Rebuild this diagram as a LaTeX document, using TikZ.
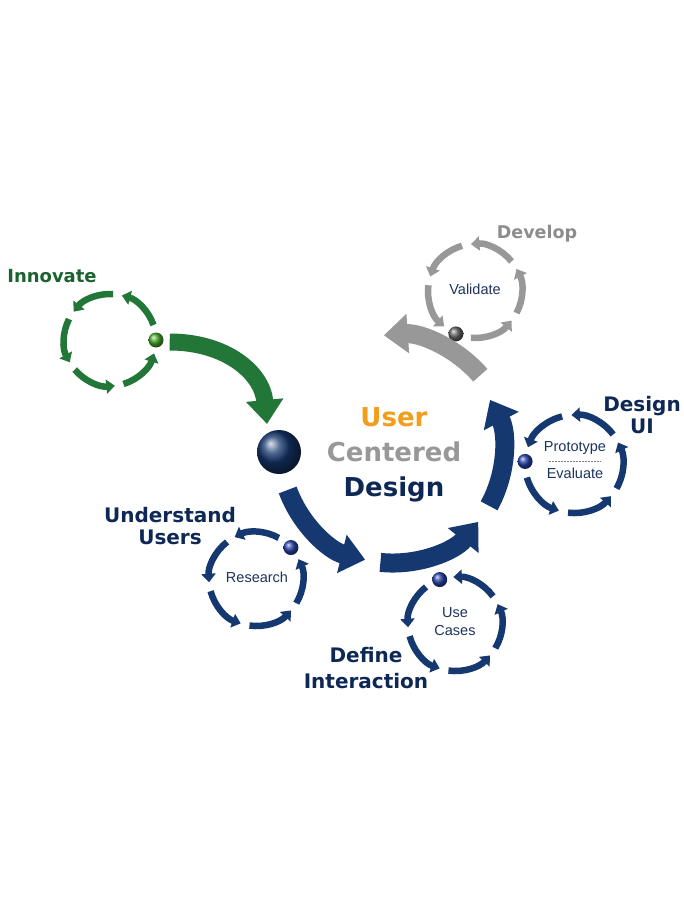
\documentclass[tikz,border=0pt]{standalone}
\usepackage{fontspec}
\setmainfont{DejaVu Sans}
\newfontfamily\lsans{Liberation Sans}
\usetikzlibrary{arrows.meta,calc}
\definecolor{navyA}{RGB}{22,56,112}
\definecolor{navyT}{RGB}{14,40,86}
\definecolor{smallT}{RGB}{30,52,92}
\definecolor{greenA}{RGB}{34,118,56}
\definecolor{greenT}{RGB}{28,98,48}
\definecolor{greyA}{RGB}{152,152,152}
\definecolor{greyT}{RGB}{140,140,140}
\definecolor{orangeT}{RGB}{240,158,28}
\definecolor{ballB}{RGB}{40,66,170}
\definecolor{ballG}{RGB}{70,170,40}
\newcommand\smallcycle[4]{%
  \foreach \k in {0,...,4} {%
    \pgfmathsetmacro\sa{#3-19-67*\k}%
    \pgfmathsetmacro\ea{\sa-56}%
    \draw[seg,#4] ($(#1)+(\sa:#2)$) arc[start angle=\sa,end angle=\ea,radius=#2];
  }%
}
\begin{document}
\begin{tikzpicture}[x=1pt,y=-1pt,
  seg/.style={line width=6.5pt,-{Triangle[width=14pt,length=8.5pt]}},
  bigarrow/.style={line width=19pt,-{Triangle[width=38pt,length=24pt]}},
  garrow/.style={line width=17pt,greenA,-{Triangle[width=36pt,length=24pt]}},
  label/.style={font=\bfseries\fontsize{20}{22}\selectfont,align=center},
  small/.style={font=\lsans\fontsize{14.5}{18}\selectfont,text=smallT,align=center},
  smallball/.style={circle,inner sep=0pt,minimum size=15pt,ball color=#1},
]
\fill[white] (0,0) rectangle (684,912);
\useasboundingbox (0,0) rectangle (684,912);

% centre of main cycle
\coordinate (C) at (392,452);

% small cycles
\coordinate (innC) at (110,340);
\coordinate (resC) at (256,579);
\coordinate (useC) at (455,624);
\coordinate (desC) at (574,464);
\coordinate (valC) at (475,291);
\smallcycle{innC}{46}{0}{greenA}
\smallcycle{resC}{47}{-42}{navyA}
\smallcycle{useC}{47}{-109}{navyA}
\smallcycle{desC}{49}{183}{navyA}
\smallcycle{valC}{47}{114}{greyA}

% small balls
\node[smallball=ballG] (innB) at ($(innC)+(0:46)$) {};
\node[smallball=ballB] (resB) at ($(resC)+(-42:47)$) {};
\node[smallball=ballB] (useB) at ($(useC)+(-109:47)$) {};
\node[smallball=ballB] (desB) at ($(desC)+(183:49)$) {};
\node[smallball=gray!80!black] (valB) at ($(valC)+(114:47)$) {};

% big arrows
\draw[bigarrow,navyA] ($(C)+(160:111)$) arc[start angle=160,end angle=104,radius=111];
\draw[bigarrow,navyA] ($(C)+(96:111)$) arc[start angle=96,end angle=39,radius=111];
\draw[bigarrow,navyA] ($(C)+(29:111)$) arc[start angle=29,end angle=-28,radius=111];
\draw[bigarrow,greyA] ($(C)+(-41:117)$) arc[start angle=-41,end angle=-94,radius=117];

% main ball
\node[circle,inner sep=0pt,minimum size=44pt,ball color=navyA] (mainB) at (279,452) {};

% green arrow
\coordinate (gTip) at (267,424);
\draw[garrow] ($(innB.east)+(6,2)$) .. controls (225,342) and (262,372) .. (gTip);

% labels
\node[label,text=greenT,font=\bfseries\fontsize{18}{20}\selectfont] (innL) at (52,276) {Innovate};
\node[label,text=greyT,font=\bfseries\fontsize{17.5}{20}\selectfont] (devL) at (537,234) {Develop};
\node[label,text=navyT] (desL) at (642,415) {Design\\UI};
\node[label,text=navyT] (undL) at (170,526) {Understand\\Users};
\node[label,text=navyT,font=\bfseries\fontsize{20}{26}\selectfont] (defL) at (366,668) {Define\\Interaction};
\node[label,font=\bfseries\fontsize{26}{35}\selectfont] (ucd) at (394,455)
  {\textcolor{orangeT}{User}\\\textcolor{greyA}{Centered}\\\textcolor{navyT}{Design}};

% small texts
\node[small] (valT) at (475,289) {Validate};
\node[small] (resT) at (257,577) {Research};
\node[small] (useT) at (455,622) {Use\\Cases};
\node[small] (proT) at (575,448) {Prototype};
\node[small] (evaT) at (575,473) {Evaluate};
\draw[gray,line width=0.8pt,dash pattern=on 1.5pt off 1.5pt] (549,461) -- (601,461);
\end{tikzpicture}
\end{document}
